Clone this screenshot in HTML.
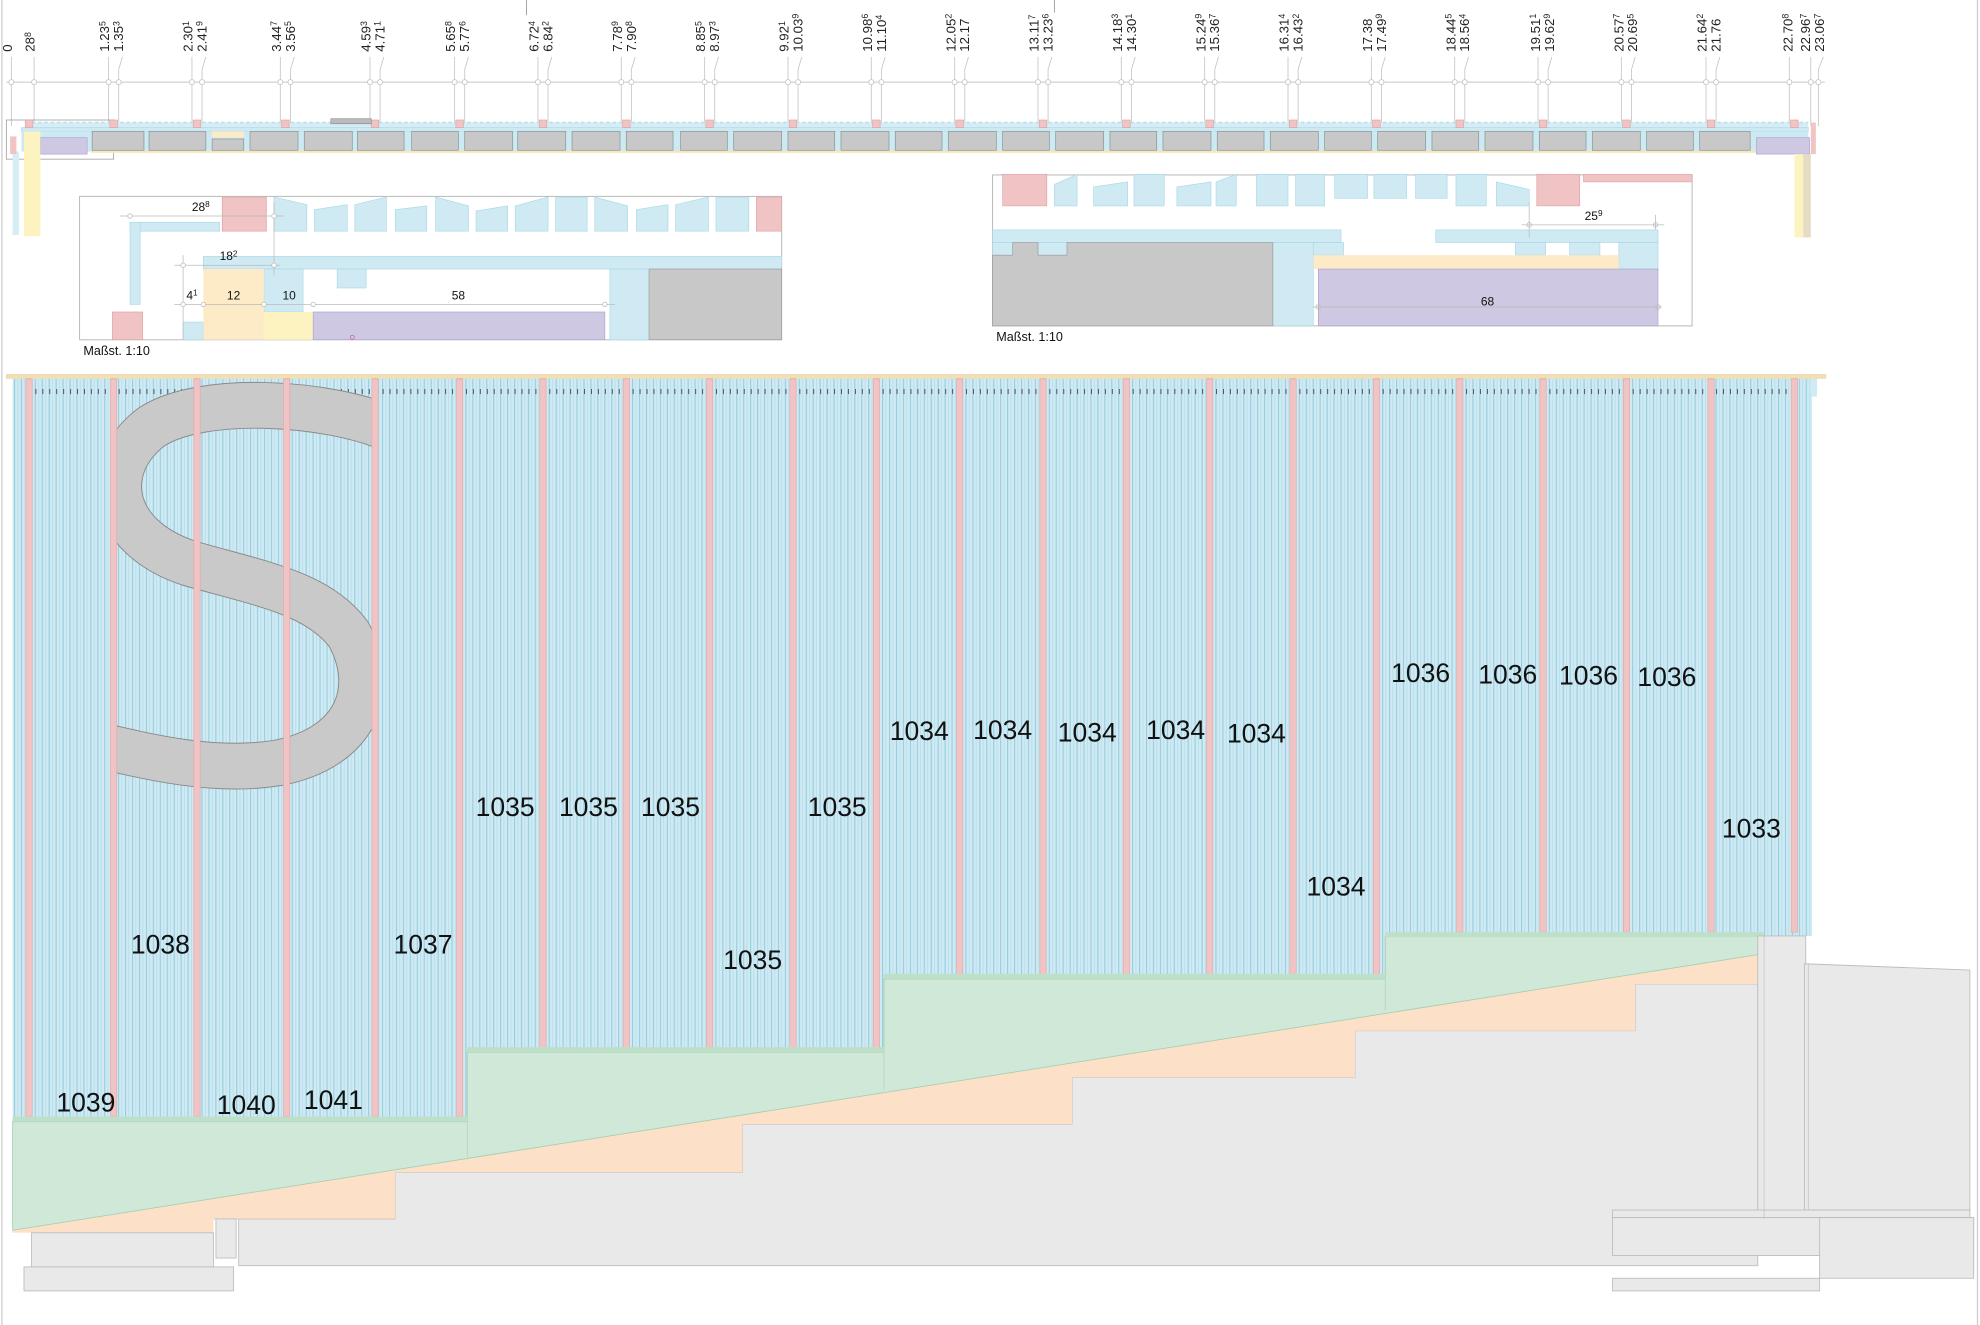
<!DOCTYPE html>
<html><head><meta charset="utf-8"><style>
html,body{margin:0;padding:0;background:#fff;}
svg{display:block;}
text{font-family:"Liberation Sans",sans-serif;}
</style></head><body>
<svg width="1980" height="1325" viewBox="0 0 1568 1049" preserveAspectRatio="none" xmlns="http://www.w3.org/2000/svg">
<defs>
<pattern id="h" width="5.5" height="10" patternUnits="userSpaceOnUse">
<rect width="5.5" height="10" fill="#cfeaf3"/>
<rect x="0" width="0.9" height="10" fill="#98cde0"/>
<rect x="2.75" width="0.6" height="10" fill="#b4dcea"/>
</pattern>
<clipPath id="sc"><rect x="92" y="300" width="204" height="340"/></clipPath>
</defs>
<rect width="1568" height="1049" fill="#fff"/>
<line x1="1.5" y1="0" x2="1.5" y2="1049" stroke="#ccc" stroke-width="1"/>
<line x1="1566" y1="0" x2="1566" y2="1049" stroke="#ccc" stroke-width="1"/>
<line x1="417" y1="0" x2="417" y2="12" stroke="#999" stroke-width="0.7"/>
<line x1="835" y1="0" x2="835" y2="10" stroke="#999" stroke-width="0.7"/>

<line x1="5" y1="65" x2="1445" y2="65" stroke="#c8c8c8" stroke-width="0.8"/>
<g stroke="#c8c8c8" stroke-width="0.7" fill="#fff">
<line x1="9" y1="45" x2="9" y2="100"/><circle cx="9" cy="65" r="2"/>
<line x1="27" y1="45" x2="27" y2="100"/><circle cx="27" cy="65" r="2"/>
</g>
<g stroke="#c8c8c8" stroke-width="0.7" fill="#fff">
<path d="M86 45V100M94 100V55L97 45"/><circle cx="86" cy="65" r="2"/><circle cx="94" cy="65" r="2"/>
<path d="M152 45V100M160 100V55L163 45"/><circle cx="152" cy="65" r="2"/><circle cx="160" cy="65" r="2"/>
<path d="M222 45V100M230 100V55L233 45"/><circle cx="222" cy="65" r="2"/><circle cx="230" cy="65" r="2"/>
<path d="M293 45V100M301 100V55L304 45"/><circle cx="293" cy="65" r="2"/><circle cx="301" cy="65" r="2"/>
<path d="M360 45V100M368 100V55L371 45"/><circle cx="360" cy="65" r="2"/><circle cx="368" cy="65" r="2"/>
<path d="M426 45V100M434 100V55L437 45"/><circle cx="426" cy="65" r="2"/><circle cx="434" cy="65" r="2"/>
<path d="M492 45V100M500 100V55L503 45"/><circle cx="492" cy="65" r="2"/><circle cx="500" cy="65" r="2"/>
<path d="M558 45V100M566 100V55L569 45"/><circle cx="558" cy="65" r="2"/><circle cx="566" cy="65" r="2"/>
<path d="M624 45V100M632 100V55L635 45"/><circle cx="624" cy="65" r="2"/><circle cx="632" cy="65" r="2"/>
<path d="M690 45V100M698 100V55L701 45"/><circle cx="690" cy="65" r="2"/><circle cx="698" cy="65" r="2"/>
<path d="M756 45V100M764 100V55L767 45"/><circle cx="756" cy="65" r="2"/><circle cx="764" cy="65" r="2"/>
<path d="M822 45V100M830 100V55L833 45"/><circle cx="822" cy="65" r="2"/><circle cx="830" cy="65" r="2"/>
<path d="M888 45V100M896 100V55L899 45"/><circle cx="888" cy="65" r="2"/><circle cx="896" cy="65" r="2"/>
<path d="M954 45V100M962 100V55L965 45"/><circle cx="954" cy="65" r="2"/><circle cx="962" cy="65" r="2"/>
<path d="M1020 45V100M1028 100V55L1031 45"/><circle cx="1020" cy="65" r="2"/><circle cx="1028" cy="65" r="2"/>
<path d="M1086 45V100M1094 100V55L1097 45"/><circle cx="1086" cy="65" r="2"/><circle cx="1094" cy="65" r="2"/>
<path d="M1152 45V100M1160 100V55L1163 45"/><circle cx="1152" cy="65" r="2"/><circle cx="1160" cy="65" r="2"/>
<path d="M1218 45V100M1226 100V55L1229 45"/><circle cx="1218" cy="65" r="2"/><circle cx="1226" cy="65" r="2"/>
<path d="M1284 45V100M1292 100V55L1295 45"/><circle cx="1284" cy="65" r="2"/><circle cx="1292" cy="65" r="2"/>
<path d="M1351 45V100M1359 100V55L1362 45"/><circle cx="1351" cy="65" r="2"/><circle cx="1359" cy="65" r="2"/>
<path d="M1417 45V100M1434 100V45M1440 100V55L1444 45"/><circle cx="1417" cy="65" r="2"/><circle cx="1434" cy="65" r="2"/><circle cx="1440" cy="65" r="2"/>
</g>
<g font-size="10.5" fill="#222" text-anchor="start">
<text transform="translate(9.5,41) rotate(-90)">0</text>
<text transform="translate(27.5,41) rotate(-90)">28<tspan font-size="7" dy="-3">8</tspan></text>
<text transform="translate(86.5,41) rotate(-90)">1.23<tspan font-size="7" dy="-3">5</tspan></text>
<text transform="translate(97.5,41) rotate(-90)">1.35<tspan font-size="7" dy="-3">3</tspan></text>
<text transform="translate(152.5,41) rotate(-90)">2.30<tspan font-size="7" dy="-3">1</tspan></text>
<text transform="translate(163.5,41) rotate(-90)">2.41<tspan font-size="7" dy="-3">9</tspan></text>
<text transform="translate(222.5,41) rotate(-90)">3.44<tspan font-size="7" dy="-3">7</tspan></text>
<text transform="translate(233.5,41) rotate(-90)">3.56<tspan font-size="7" dy="-3">5</tspan></text>
<text transform="translate(293.5,41) rotate(-90)">4.59<tspan font-size="7" dy="-3">3</tspan></text>
<text transform="translate(304.5,41) rotate(-90)">4.71<tspan font-size="7" dy="-3">1</tspan></text>
<text transform="translate(360.5,41) rotate(-90)">5.65<tspan font-size="7" dy="-3">8</tspan></text>
<text transform="translate(371.5,41) rotate(-90)">5.77<tspan font-size="7" dy="-3">6</tspan></text>
<text transform="translate(426.5,41) rotate(-90)">6.72<tspan font-size="7" dy="-3">4</tspan></text>
<text transform="translate(437.5,41) rotate(-90)">6.84<tspan font-size="7" dy="-3">2</tspan></text>
<text transform="translate(492.5,41) rotate(-90)">7.78<tspan font-size="7" dy="-3">9</tspan></text>
<text transform="translate(503.5,41) rotate(-90)">7.90<tspan font-size="7" dy="-3">8</tspan></text>
<text transform="translate(558.5,41) rotate(-90)">8.85<tspan font-size="7" dy="-3">5</tspan></text>
<text transform="translate(569.5,41) rotate(-90)">8.97<tspan font-size="7" dy="-3">3</tspan></text>
<text transform="translate(624.5,41) rotate(-90)">9.92<tspan font-size="7" dy="-3">1</tspan></text>
<text transform="translate(635.5,41) rotate(-90)">10.03<tspan font-size="7" dy="-3">9</tspan></text>
<text transform="translate(690.5,41) rotate(-90)">10.98<tspan font-size="7" dy="-3">6</tspan></text>
<text transform="translate(701.5,41) rotate(-90)">11.10<tspan font-size="7" dy="-3">4</tspan></text>
<text transform="translate(756.5,41) rotate(-90)">12.05<tspan font-size="7" dy="-3">2</tspan></text>
<text transform="translate(767.5,41) rotate(-90)">12.17</text>
<text transform="translate(822.5,41) rotate(-90)">13.11<tspan font-size="7" dy="-3">7</tspan></text>
<text transform="translate(833.5,41) rotate(-90)">13.23<tspan font-size="7" dy="-3">6</tspan></text>
<text transform="translate(888.5,41) rotate(-90)">14.18<tspan font-size="7" dy="-3">3</tspan></text>
<text transform="translate(899.5,41) rotate(-90)">14.30<tspan font-size="7" dy="-3">1</tspan></text>
<text transform="translate(954.5,41) rotate(-90)">15.24<tspan font-size="7" dy="-3">9</tspan></text>
<text transform="translate(965.5,41) rotate(-90)">15.36<tspan font-size="7" dy="-3">7</tspan></text>
<text transform="translate(1020.5,41) rotate(-90)">16.31<tspan font-size="7" dy="-3">4</tspan></text>
<text transform="translate(1031.5,41) rotate(-90)">16.43<tspan font-size="7" dy="-3">2</tspan></text>
<text transform="translate(1086.5,41) rotate(-90)">17.38</text>
<text transform="translate(1097.5,41) rotate(-90)">17.49<tspan font-size="7" dy="-3">9</tspan></text>
<text transform="translate(1152.5,41) rotate(-90)">18.44<tspan font-size="7" dy="-3">5</tspan></text>
<text transform="translate(1163.5,41) rotate(-90)">18.56<tspan font-size="7" dy="-3">4</tspan></text>
<text transform="translate(1219.5,41) rotate(-90)">19.51<tspan font-size="7" dy="-3">1</tspan></text>
<text transform="translate(1230.5,41) rotate(-90)">19.62<tspan font-size="7" dy="-3">9</tspan></text>
<text transform="translate(1285.5,41) rotate(-90)">20.57<tspan font-size="7" dy="-3">7</tspan></text>
<text transform="translate(1296.5,41) rotate(-90)">20.69<tspan font-size="7" dy="-3">5</tspan></text>
<text transform="translate(1351.5,41) rotate(-90)">21.64<tspan font-size="7" dy="-3">2</tspan></text>
<text transform="translate(1362.5,41) rotate(-90)">21.76</text>
<text transform="translate(1419.5,41) rotate(-90)">22.70<tspan font-size="7" dy="-3">8</tspan></text>
<text transform="translate(1433.5,41) rotate(-90)">22.96<tspan font-size="7" dy="-3">7</tspan></text>
<text transform="translate(1444.5,41) rotate(-90)">23.06<tspan font-size="7" dy="-3">7</tspan></text>
</g>

<rect x="5" y="95" width="85" height="31" fill="none" stroke="#999" stroke-width="0.6"/>
<rect x="20" y="97" width="1412" height="4" fill="#d6edf5"/>
<line x1="20" y1="97" x2="1432" y2="97" stroke="#bfe2ee" stroke-width="1.5" stroke-dasharray="3 2"/>
<rect x="17" y="101" width="1415" height="3" fill="#cde9f1" stroke="#a9d8e6" stroke-width="0.5"/>
<rect x="17" y="104" width="1415" height="16" fill="#cde9f1"/>
<rect x="72" y="119" width="1320" height="2" fill="#f5e6bc"/>
<g fill="#c8c8c8" stroke="#8a9aa0" stroke-width="0.6">
<rect x="73" y="104" width="41" height="15"/><rect x="118" y="104" width="45" height="15"/><rect x="168" y="110" width="25" height="9"/>
<rect x="198" y="104" width="38" height="15"/><rect x="241" y="104" width="38" height="15"/><rect x="283" y="104" width="37" height="15"/>
<rect x="326" y="104" width="37" height="15"/><rect x="368" y="104" width="38" height="15"/><rect x="410" y="104" width="38" height="15"/>
<rect x="453" y="104" width="38" height="15"/><rect x="496" y="104" width="37" height="15"/><rect x="539" y="104" width="37" height="15"/>
<rect x="581" y="104" width="38" height="15"/><rect x="624" y="104" width="37" height="15"/><rect x="666" y="104" width="38" height="15"/>
<rect x="709" y="104" width="37" height="15"/><rect x="751" y="104" width="38" height="15"/><rect x="794" y="104" width="37" height="15"/>
<rect x="836" y="104" width="38" height="15"/><rect x="879" y="104" width="37" height="15"/><rect x="921" y="104" width="38" height="15"/>
<rect x="964" y="104" width="37" height="15"/><rect x="1006" y="104" width="38" height="15"/><rect x="1049" y="104" width="37" height="15"/>
<rect x="1091" y="104" width="38" height="15"/><rect x="1134" y="104" width="37" height="15"/><rect x="1176" y="104" width="38" height="15"/>
<rect x="1219" y="104" width="37" height="15"/><rect x="1261" y="104" width="38" height="15"/><rect x="1304" y="104" width="37" height="15"/>
<rect x="1346" y="104" width="40" height="15"/>
</g>
<rect x="168" y="104" width="25" height="5" fill="#fdebc8"/>
<rect x="32" y="109" width="37" height="13" fill="#cfc8e2" stroke="#a99fcf" stroke-width="0.5"/>
<rect x="1391" y="109" width="42" height="13" fill="#cfc8e2" stroke="#a99fcf" stroke-width="0.5"/>
<rect x="19" y="104" width="13" height="83" fill="#fdf3c0"/>
<rect x="10" y="120" width="5" height="66" fill="#d6edf5"/>
<rect x="8" y="108" width="5" height="14" fill="#f0c4c4"/>
<rect x="1421" y="122" width="7" height="66" fill="#fdf3c0"/>
<rect x="1428" y="122" width="6" height="66" fill="#e6dcc4"/>
<rect x="1434" y="97" width="4" height="25" fill="#f0c4c4"/>
<g fill="#f0c4c4" stroke="#e0a0a0" stroke-width="0.5">
<rect x="20" y="95" width="6" height="6"/><rect x="87" y="95" width="6" height="6"/><rect x="153" y="95" width="6" height="6"/><rect x="223" y="95" width="6" height="6"/><rect x="294" y="95" width="6" height="6"/><rect x="361" y="95" width="6" height="6"/><rect x="427" y="95" width="6" height="6"/><rect x="493" y="95" width="6" height="6"/><rect x="559" y="95" width="6" height="6"/><rect x="625" y="95" width="6" height="6"/><rect x="691" y="95" width="6" height="6"/><rect x="757" y="95" width="6" height="6"/><rect x="823" y="95" width="6" height="6"/><rect x="889" y="95" width="6" height="6"/><rect x="955" y="95" width="6" height="6"/><rect x="1021" y="95" width="6" height="6"/><rect x="1087" y="95" width="6" height="6"/><rect x="1153" y="95" width="6" height="6"/><rect x="1219" y="95" width="6" height="6"/><rect x="1285" y="95" width="6" height="6"/><rect x="1352" y="95" width="6" height="6"/><rect x="1418" y="95" width="6" height="6"/>
</g>
<rect x="262" y="94" width="32" height="4" fill="#bbb" stroke="#888" stroke-width="0.5"/>

<rect x="63" y="155.5" width="556" height="113.5" fill="#fff" stroke="#bbb" stroke-width="0.8"/>
<g fill="#cfeaf3" stroke="#a9d8e6" stroke-width="0.5">
<polygon points="217,156 243,162 243,183 217,183"/><polygon points="249,166 275,162 275,183 249,183"/><polygon points="281,162 306,156 306,183 281,183"/><polygon points="313,166 338,163 338,183 313,183"/>
<polygon points="345,156 371,163 371,183 345,183"/><polygon points="377,167 402,163 402,183 377,183"/><polygon points="408,163 434,156 434,183 408,183"/><polygon points="440,156 465,156 465,183 440,183"/>
<polygon points="471,156 497,163 497,183 471,183"/><polygon points="504,166 529,162 529,183 504,183"/><polygon points="535,162 561,156 561,183 535,183"/><polygon points="567,156 593,156 593,183 567,183"/>
<rect x="103" y="176" width="71" height="7"/><rect x="103" y="176" width="8" height="65"/>
<rect x="161" y="203" width="458" height="10"/><rect x="483" y="213" width="31" height="56"/><rect x="267" y="213" width="23" height="15"/>
<rect x="209" y="213" width="31" height="34"/><rect x="145" y="255" width="16" height="14"/>
</g>
<rect x="176" y="156" width="35" height="27" fill="#f0c4c4" stroke="#e0a0a0" stroke-width="0.5"/>
<rect x="599" y="156" width="20" height="27" fill="#f0c4c4" stroke="#e0a0a0" stroke-width="0.5"/>
<rect x="89" y="247" width="24" height="22" fill="#f0c4c4" stroke="#e0a0a0" stroke-width="0.5"/>
<rect x="514" y="213" width="105" height="56" fill="#c8c8c8" stroke="#999" stroke-width="0.5"/>
<rect x="161" y="213" width="48" height="56" fill="#fdebc8"/>
<rect x="209" y="247" width="39" height="22" fill="#fdf3c0"/>
<rect x="248" y="247" width="231" height="22" fill="#cfc8e2" stroke="#a99fcf" stroke-width="0.5"/>
<circle cx="279" cy="267" r="1.6" fill="none" stroke="#c49" stroke-width="0.5"/>
<g stroke="#bbb" stroke-width="0.6" fill="#fff">
<line x1="95" y1="171" x2="225" y2="171"/><line x1="217" y1="160" x2="217" y2="218"/>
<line x1="138" y1="210" x2="222" y2="210"/><line x1="145" y1="202" x2="145" y2="269"/>
<line x1="138" y1="241" x2="487" y2="241"/>
<circle cx="103" cy="171" r="1.8"/><circle cx="217" cy="171" r="1.8"/><circle cx="145" cy="210" r="1.8"/><circle cx="217" cy="210" r="1.8"/>
<circle cx="145" cy="241" r="1.8"/><circle cx="161" cy="241" r="1.8"/><circle cx="209" cy="241" r="1.8"/><circle cx="248" cy="241" r="1.8"/><circle cx="479" cy="241" r="1.8"/>
</g>
<g font-size="9.5" fill="#111" text-anchor="middle">
<text x="159" y="167">28<tspan font-size="6.5" dy="-3">8</tspan></text>
<text x="181" y="206">18<tspan font-size="6.5" dy="-3">2</tspan></text>
<text x="152" y="237">4<tspan font-size="6.5" dy="-3">1</tspan></text>
<text x="185" y="237">12</text><text x="229" y="237">10</text><text x="363" y="237">58</text>
</g>
<text x="66" y="281" font-size="10" fill="#111">Maßst. 1:10</text>

<rect x="786" y="138.5" width="554" height="119.5" fill="#fff" stroke="#bbb" stroke-width="0.8"/>
<g fill="#cfeaf3" stroke="#a9d8e6" stroke-width="0.5">
<polygon points="835,146 853,138 853,163 835,163"/><polygon points="866,148 893,144 893,163 866,163"/><polygon points="898,138 922,138 922,163 898,163"/><polygon points="932,148 959,144 959,163 932,163"/>
<polygon points="963,144 979,138 979,163 963,163"/><polygon points="995,138 1020,138 1020,163 995,163"/><polygon points="1026,138 1049,138 1049,163 1026,163"/><polygon points="1057,138 1083,138 1083,157 1057,157"/>
<polygon points="1088,138 1114,138 1114,157 1088,157"/><polygon points="1121,138 1146,138 1146,157 1121,157"/><polygon points="1153,138 1177,138 1177,163 1153,163"/><polygon points="1185,144 1211,150 1211,163 1185,163"/>
<rect x="786" y="182" width="276" height="10"/><rect x="1137" y="182" width="176" height="10"/>
<rect x="786" y="192" width="16" height="10"/><rect x="822" y="192" width="23" height="10"/>
<rect x="1008" y="192" width="32" height="66"/><rect x="1040" y="192" width="24" height="10"/>
<rect x="1200" y="192" width="24" height="10"/><rect x="1243" y="192" width="24" height="10"/><rect x="1282" y="192" width="31" height="21"/>
</g>
<path d="M786 202H802V192H822V202H845V192H1008V258H786Z" fill="#c8c8c8" stroke="#999" stroke-width="0.5"/>
<rect x="794" y="138" width="35" height="25" fill="#f0c4c4" stroke="#e0a0a0" stroke-width="0.5"/>
<rect x="1217" y="138" width="34" height="25" fill="#f0c4c4" stroke="#e0a0a0" stroke-width="0.5"/>
<rect x="1254" y="138" width="86" height="6" fill="#f0c4c4" stroke="#e0a0a0" stroke-width="0.5"/>
<rect x="1040" y="202" width="242" height="11" fill="#fdebc8"/>
<rect x="1044" y="213" width="269" height="45" fill="#cfc8e2" stroke="#a99fcf" stroke-width="0.5"/>
<g stroke="#bbb" stroke-width="0.6" fill="none">
<line x1="1205" y1="178" x2="1318" y2="178"/><line x1="1211" y1="160" x2="1211" y2="188"/><line x1="1311" y1="170" x2="1311" y2="182"/>
<line x1="1040" y1="243" x2="1316" y2="243"/><circle cx="1211" cy="178" r="1.8"/><circle cx="1311" cy="178" r="1.8"/><circle cx="1044" cy="243" r="1.8"/><circle cx="1313" cy="243" r="1.8"/>
</g>
<text x="1178" y="242" font-size="9.5" fill="#111" text-anchor="middle">68</text>
<text x="1262" y="174" font-size="9.5" fill="#111" text-anchor="middle">25<tspan font-size="6.5" dy="-3">9</tspan></text>
<text x="789" y="270" font-size="10" fill="#111">Maßst. 1:10</text>

<rect x="5" y="296.5" width="1441" height="3" fill="#f2dfb6" stroke="#e0c890" stroke-width="0.4"/>
<path d="M10 300H1435V741H1097V775H700V833H370V888H10Z" fill="url(#h)"/>
<rect x="1435" y="300" width="4" height="14" fill="#cfeaf3"/>
<line x1="28" y1="310" x2="1425" y2="310" stroke="#556" stroke-width="4" stroke-dasharray="0.8 4.7"/>
<g clip-path="url(#sc)">
<path d="M310 340C260 318 160 312 120 338C78 370 86 425 150 446C210 463 252 470 276 502C300 545 283 592 220 604C170 612 120 600 70 588" fill="none" stroke="#8a8a8a" stroke-width="37"/>
<path d="M310 340C260 318 160 312 120 338C78 370 86 425 150 446C210 463 252 470 276 502C300 545 283 592 220 604C170 612 120 600 70 588" fill="none" stroke="#c9c9c9" stroke-width="35.5"/>
</g>
<g fill="#f0c4c4" stroke="#e2a6a6" stroke-width="0.5">
<rect x="20.5" y="300" width="5" height="584"/><rect x="87.5" y="300" width="5" height="584"/><rect x="153.5" y="300" width="5" height="584"/><rect x="224.5" y="300" width="5" height="584"/><rect x="294.5" y="300" width="5" height="584"/><rect x="361.5" y="300" width="5" height="584"/>
<rect x="427.5" y="300" width="5" height="530"/><rect x="493.5" y="300" width="5" height="530"/><rect x="559.5" y="300" width="5" height="530"/><rect x="625.5" y="300" width="5" height="530"/><rect x="691.5" y="300" width="5" height="530"/>
<rect x="757.5" y="300" width="5" height="472"/><rect x="823.5" y="300" width="5" height="472"/><rect x="889.5" y="300" width="5" height="472"/><rect x="955.5" y="300" width="5" height="472"/><rect x="1021.5" y="300" width="5" height="472"/><rect x="1087.5" y="300" width="5" height="472"/>
<rect x="1153.5" y="300" width="5" height="438"/><rect x="1219.5" y="300" width="5" height="438"/><rect x="1285.5" y="300" width="5" height="438"/><rect x="1352.5" y="300" width="5" height="438"/><rect x="1418.5" y="300" width="5" height="438"/>
</g>

<path d="M189 965H313V928H588V890H849V853H1073V816H1295V779H1392V1002H189Z" fill="#e9e9e9" stroke="#bdbdbd" stroke-width="0.7"/>
<polygon points="10,974 1392,755 1392,779 1295,779 1295,816 1073,816 1073,853 849,853 849,890 588,890 588,928 313,928 313,965 169,965 169,976 10,976" fill="#fde0c8"/>
<line x1="169" y1="965" x2="313" y2="965" stroke="#d8c0b0" stroke-width="0.5"/>
<path d="M10 888H370V833H700V775H1097V741H1397V755L10 974Z" fill="#d0e8d8" stroke="#a6d0b2" stroke-width="0.7"/>
<line x1="370" y1="833" x2="370" y2="916" stroke="#a6d0b2" stroke-width="0.5"/>
<line x1="700" y1="775" x2="700" y2="863" stroke="#a6d0b2" stroke-width="0.5"/>
<line x1="1097" y1="741" x2="1097" y2="800" stroke="#a6d0b2" stroke-width="0.5"/>
<rect x="10" y="884" width="360" height="4" fill="#bfe0c8"/><rect x="370" y="829" width="330" height="4" fill="#bfe0c8"/><rect x="700" y="771" width="397" height="4" fill="#bfe0c8"/><rect x="1097" y="738" width="300" height="4" fill="#bfe0c8"/>
<g fill="#e9e9e9" stroke="#bdbdbd" stroke-width="0.7">
<rect x="25" y="976" width="144" height="27"/><rect x="19" y="1003" width="166" height="19"/>
<rect x="171" y="965" width="16" height="31"/>
<rect x="1392" y="741" width="38" height="224"/>
<polygon points="1429,763 1560,768 1560,958 1429,958"/>
<rect x="1277" y="958" width="283" height="6"/>
<rect x="1277" y="964" width="286" height="30"/>
<rect x="1441" y="964" width="122" height="48"/>
<rect x="1277" y="1012" width="164" height="10"/>
</g>
<line x1="1397" y1="741" x2="1397" y2="965" stroke="#bdbdbd" stroke-width="0.5"/>
<line x1="1432" y1="763" x2="1432" y2="958" stroke="#bdbdbd" stroke-width="0.5"/>

<g font-size="21" fill="#111" text-anchor="middle">
<text x="68" y="880">1039</text><text x="127" y="755">1038</text><text x="195" y="882">1040</text><text x="264" y="878">1041</text><text x="335" y="755">1037</text>
<text x="400" y="646">1035</text><text x="466" y="646">1035</text><text x="531" y="646">1035</text><text x="596" y="767">1035</text><text x="663" y="646">1035</text>
<text x="728" y="586">1034</text><text x="794" y="585">1034</text><text x="861" y="587">1034</text><text x="931" y="585">1034</text><text x="995" y="588">1034</text><text x="1058" y="709">1034</text>
<text x="1125" y="540">1036</text><text x="1194" y="541">1036</text><text x="1258" y="542">1036</text><text x="1320" y="543">1036</text><text x="1387" y="663">1033</text>
</g>
</svg>
</body></html>
